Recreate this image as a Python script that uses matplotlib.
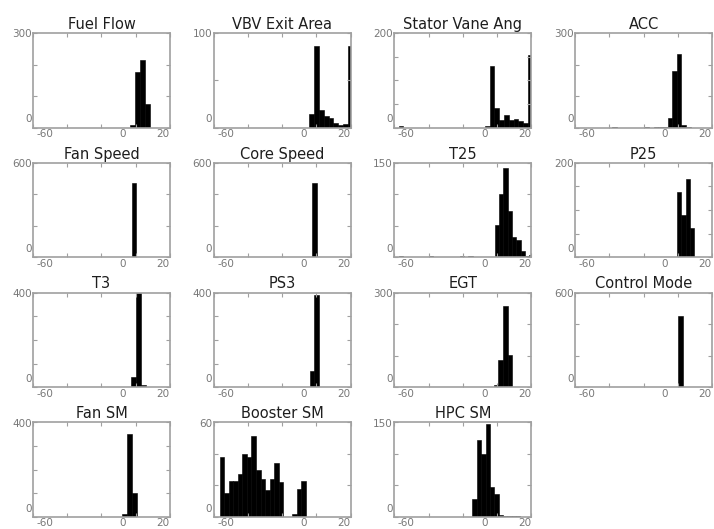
import numpy as np
import matplotlib.pyplot as plt
from matplotlib.ticker import MaxNLocator

# panel titles and y-axis tops
titles = ["Fuel Flow", "VBV Exit Area", "Stator Vane Ang", "ACC",
          "Fan Speed", "Core Speed", "T25", "P25",
          "T3", "PS3", "EGT", "Control Mode",
          "Fan SM", "Booster SM", "HPC SM"]
y_top = [300, 100, 200, 300, 600, 600, 150, 200, 400, 400, 300, 600, 400, 60, 150]

# first bin edge and bin width of each histogram
bin_start = [-3.2, -4.1, -57.6, -38.4, -2.3, -4.9, -57.6, -0.4,
             -2.6, -3.7, -1.9, 0.3, -7.8, -56.5, -14.4]
bin_width = [2.9, 2.8, 2.8, 2.7, 2.5, 2.6, 2.55, 2.5,
             2.8, 2.6, 2.7, 2.8, 2.9, 2.65, 2.55]

# bin counts
fuel_flow = [8, 177, 214, 75]
vbv_exit_area = [14, 86, 19, 12, 10, 5, 3, 4, 86]
stator_vane = [4, 0, 0, 0, 0, 0, 0, 0, 0, 0, 0, 0, 0, 0, 0, 0, 0, 0,
               3, 131, 42, 17, 27, 17, 19, 14, 10, 154]
acc = [2, 0, 0, 0, 0, 0, 0, 1, 0, 1, 1, 3, 32, 179, 232, 10, 3]
fan_speed = [474]
core_speed = [2, 474, 2]
t25 = [2, 0, 0, 0, 1, 0, 0, 2, 0, 0, 1, 0, 0, 0, 2, 1, 2, 0, 0, 0, 0, 0,
       52, 100, 141, 74, 33, 28, 10, 3, 4]
p25 = [139, 90, 166, 62]
t3 = [42, 400, 11]
ps3 = [69, 389]
egt = [8, 87, 257, 101]
control_mode = [452, 0, 3]
fan_sm = [14, 350, 100]
booster_sm = [38, 15, 23, 23, 27, 40, 38, 51, 30, 24, 17, 24, 34, 22, 0, 0, 2, 18, 23]
hpc_sm = [29, 122, 99, 147, 48, 37, 3, 1, 2, 2, 2]

all_counts = [fuel_flow, vbv_exit_area, stator_vane, acc, fan_speed, core_speed,
              t25, p25, t3, ps3, egt, control_mode, fan_sm, booster_sm, hpc_sm]

grey = "#a0a0a0"

fig, axes = plt.subplots(4, 4, figsize=(7.14, 5.29), dpi=100)
plt.subplots_adjust(left=33/714, right=712/714, top=1-33/529, bottom=1-517/529,
                    wspace=0.32, hspace=0.37)

for i, ax in enumerate(axes.flat):
    if i >= len(titles):
        ax.remove()
        continue
    c = np.array(all_counts[i], dtype=float)
    lefts = bin_start[i] + bin_width[i] * np.arange(len(c))
    ax.bar(lefts, c, width=bin_width[i], align="edge",
           color="black", edgecolor="black", linewidth=0.4)
    ax.set_xlim(-60, 20)
    ax.set_ylim(0, y_top[i])
    ax.set_title(titles[i], fontsize=10.5, color="#1e1e1e", pad=3)

    # tick marks without labels
    ax.set_xticks([-60, -40, -20, 0, 20])
    ax.yaxis.set_major_locator(MaxNLocator(nbins=4, steps=[1, 2, 5, 10]))
    ax.tick_params(which="major", direction="in", length=3, width=0.8,
                   color=grey, top=True, right=True,
                   labelbottom=False, labelleft=False)
    # labels sit a little off the ticks, as in the source picture
    ax.set_xticks([-53, -7.5, 16], minor=True)
    ax.set_xticklabels(["-60", "0", "20"], minor=True)
    ax.set_yticks([0.1 * y_top[i], 0.995 * y_top[i]], minor=True)
    ax.set_yticklabels(["0", str(y_top[i])], minor=True)
    ax.tick_params(which="minor", length=0, labelsize=7.5, labelcolor="#777777", pad=1)

    for s in ax.spines.values():
        s.set_color(grey)
        s.set_linewidth(1.2)

plt.savefig("out.png", dpi=100)
